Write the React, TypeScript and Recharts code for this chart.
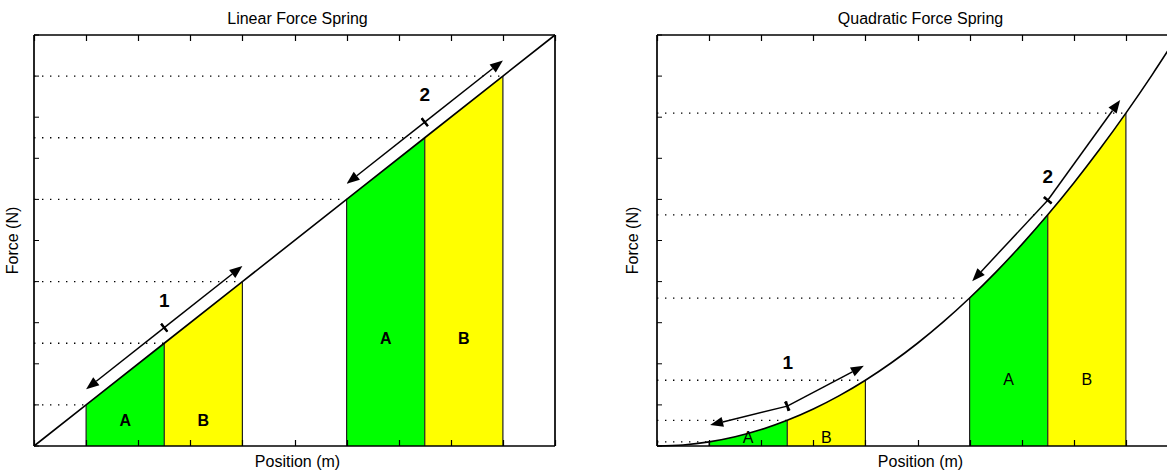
import { Area, ComposedChart, Line, ReferenceDot, ReferenceLine, XAxis, YAxis } from 'recharts'

const FONT = '"Liberation Sans", Arial, Helvetica, sans-serif'
const TICKS = [0, 1, 2, 3, 4, 5, 6, 7, 8, 9, 10]

// Linear spring: force rises in a straight line with position.
const LIN_X = [0, 1, 2.5, 4, 6, 7.5, 9, 10]
const LIN_F = [0, 1, 2.5, 4, 6, 7.5, 9, 10]

// Quadratic spring.
const QUAD_X = [0, 0.5, 1, 1.5, 2, 2.5, 3, 3.5, 4, 4.5, 5, 5.5, 6, 6.5, 7, 7.5, 8, 8.5, 9, 9.5, 10]
const QUAD_F = [0, 0.025, 0.1, 0.225, 0.4, 0.625, 0.9, 1.225, 1.6, 2.025, 2.5, 3.025, 3.6, 4.225, 4.9, 5.625, 6.4, 7.225, 8.1, 9.025, 10]

// Each stretch: start, split between A and B, end.
const STRETCHES = [
  [1, 2.5, 4],
  [6, 7.5, 9],
]
const STRETCH_NAMES = ['1', '2']

// Per stretch: low arrow tip, middle tick, high arrow tip, where the number sits.
const LIN_ARROWS = [
  [[1, 1.38], [2.5, 2.88], [4, 4.38], [2.5, 3.55]],
  [[6, 6.38], [7.5, 7.88], [9, 9.38], [7.5, 8.55]],
]
const QUAD_ARROWS = [
  [[1.02, 0.51], [2.5, 0.97], [3.97, 1.95], [2.51, 2.04]],
  [[6.05, 4.01], [7.5, 5.98], [8.89, 8.42], [7.5, 6.57]],
]

// Height of the A / B letters in each stretch.
const LIN_LETTER_Y = [0.63, 2.63]
const QUAD_LETTER_Y = [0.22, 1.63]

// Half arrow: line from the middle (x1,y1) to a filled head at (x2,y2), with a cross tick at the middle.
function ArrowHalf(props: any) {
  const { x1, y1, x2, y2 } = props
  const dx = x2 - x1
  const dy = y2 - y1
  const len = Math.hypot(dx, dy) || 1
  const ux = dx / len
  const uy = dy / len
  const px = -uy
  const py = ux
  const head = 13
  const half = 5
  const bx = x2 - ux * head
  const by = y2 - uy * head
  return (
    <g>
      <line x1={x1} y1={y1} x2={bx} y2={by} stroke="#000" strokeWidth={1.5} />
      <polygon
        points={`${x2},${y2} ${bx + px * half},${by + py * half} ${bx - px * half},${by - py * half}`}
        fill="#000"
      />
      <line x1={x1 - px * 5} y1={y1 - py * 5} x2={x1 + px * 5} y2={y1 + py * 5} stroke="#000" strokeWidth={2.2} />
    </g>
  )
}

// Inward x ticks along a full-width segment, drawn as one path; dir = -1 points up, 1 points down.
const xTicks = (dir: number) => (props: any) => {
  const { x1, y1, x2 } = props
  const d = TICKS.map((t) => {
    const x = Math.round(x1 + (t / 10) * (x2 - x1)) + 0.5
    return `M${x},${y1} L${x},${y1 + dir * 6}`
  }).join(' ')
  return <path d={d} stroke="#000" strokeWidth={1.2} fill="none" />
}
const TICKS_UP = xTicks(-1)
const TICKS_DOWN = xTicks(1)

const textStyle = (size: number, weight: number) => ({ fontSize: size, fontWeight: weight, fill: '#000' })

type PanelProps = {
  title: string
  xs: number[]
  fs: number[]
  curve: 'linear' | 'monotone'
  arrows: number[][][]
  letterY: number[]
  letterWeight: number
  yLabelOffset: number
}

function Panel({ title, xs, fs, curve, arrows, letterY, letterWeight, yLabelOffset }: PanelProps) {
  const forceAt = (x: number) => fs[xs.indexOf(x)]
  const rows = xs.map((x, i) => {
    const row: Record<string, number | null> = { x, f: fs[i] }
    STRETCHES.forEach(([s, m, e], k) => {
      row['a' + k] = x >= s && x <= m ? fs[i] : null
      row['b' + k] = x >= m && x <= e ? fs[i] : null
    })
    return row
  })

  const axisCommon = {
    type: 'number' as const,
    domain: [0, 10],
    ticks: TICKS,
    interval: 0,
    tickFormatter: () => '',
    stroke: '#000',
    axisLine: { strokeWidth: 1.7 },
  }
  // x axes take 1px each; their inward ticks are drawn by TICKS_UP / TICKS_DOWN
  const xAxisCommon = { ...axisCommon, dataKey: 'x', height: 1, tickLine: false }
  const yAxisCommon = { ...axisCommon, mirror: true, tickSize: 5, tickLine: { stroke: '#000', strokeWidth: 1 } }

  return (
    <ComposedChart width={580} height={472} data={rows} margin={{ top: 34, right: 25, bottom: 25, left: 34 }}>
      {STRETCHES.map((_, k) => (
        <Area key={'a' + k} dataKey={'a' + k} type={curve} fill="#00ff00" fillOpacity={1} stroke="none" isAnimationActive={false} />
      ))}
      {STRETCHES.map((_, k) => (
        <Area key={'b' + k} dataKey={'b' + k} type={curve} fill="#ffff00" fillOpacity={1} stroke="none" isAnimationActive={false} />
      ))}

      {STRETCHES.flat().map((x, i) => (
        <ReferenceLine key={'edge' + i} segment={[{ x, y: 0 }, { x, y: forceAt(x) }]} stroke="#222" strokeWidth={1.2} />
      ))}
      {STRETCHES.flat().map((x, i) => (
        <ReferenceLine
          key={'dot' + i}
          segment={[{ x: 0, y: forceAt(x) }, { x, y: forceAt(x) }]}
          stroke="#000"
          strokeWidth={1.3}
          strokeDasharray="1.4 6.6"
        />
      ))}

      <ReferenceLine key="ticks-bottom" segment={[{ x: 0, y: 0 }, { x: 10, y: 0 }]} ifOverflow="visible" shape={TICKS_UP} />
      <ReferenceLine key="ticks-top" segment={[{ x: 0, y: 10 }, { x: 10, y: 10 }]} ifOverflow="visible" shape={TICKS_DOWN} />

      <Line dataKey="f" type={curve} stroke="#000" strokeWidth={1.6} dot={false} activeDot={false} isAnimationActive={false} />

      {arrows.map(([lo, mid, hi], k) => [
        <ReferenceLine key={'lo' + k} segment={[{ x: mid[0], y: mid[1] }, { x: lo[0], y: lo[1] }]} shape={ArrowHalf} />,
        <ReferenceLine key={'hi' + k} segment={[{ x: mid[0], y: mid[1] }, { x: hi[0], y: hi[1] }]} shape={ArrowHalf} />,
      ])}
      {arrows.map((a, k) => (
        <ReferenceDot
          key={'num' + k}
          x={a[3][0]}
          y={a[3][1]}
          r={0}
          fill="none"
          stroke="none"
          label={{ value: STRETCH_NAMES[k], position: 'center', fill: '#000', fontSize: 19, fontWeight: 700, style: textStyle(19, 700) }}
        />
      ))}
      {STRETCHES.map(([s, m, e], k) => [
        <ReferenceDot
          key={'A' + k}
          x={(s + m) / 2}
          y={letterY[k]}
          r={0}
          fill="none"
          stroke="none"
          label={{ value: 'A', position: 'center', fill: '#000', fontSize: 16, style: textStyle(16, letterWeight) }}
        />,
        <ReferenceDot
          key={'B' + k}
          x={(m + e) / 2}
          y={letterY[k]}
          r={0}
          fill="none"
          stroke="none"
          label={{ value: 'B', position: 'center', fill: '#000', fontSize: 16, style: textStyle(16, letterWeight) }}
        />,
      ])}

      <XAxis
        {...xAxisCommon}
        label={{ value: 'Position (m)', position: 'bottom', offset: 9, dx: 3, fill: '#000', fontSize: 16, style: textStyle(16, 400) }}
      />
      <XAxis
        {...xAxisCommon}
        xAxisId="top"
        orientation="top"
        label={{ value: title, position: 'top', offset: 10, dx: 3, fill: '#000', fontSize: 16, style: textStyle(16, 400) }}
      />
      <YAxis
        {...yAxisCommon}
        label={{
          value: 'Force (N)',
          angle: -90,
          position: 'left',
          offset: yLabelOffset,
          fill: '#000',
          fontSize: 16,
          style: { ...textStyle(16, 400), textAnchor: 'middle' },
        }}
      />
      <YAxis {...yAxisCommon} yAxisId="right" orientation="right" />
    </ComposedChart>
  )
}

export default function App() {
  return (
    <div
      style={{
        position: 'absolute',
        left: 0,
        top: 0,
        width: 1167,
        height: 472,
        overflow: 'hidden',
        background: '#fff',
        fontFamily: FONT,
      }}
    >
      <div style={{ position: 'absolute', left: 0, top: 0 }}>
        <Panel
          title="Linear Force Spring"
          xs={LIN_X}
          fs={LIN_F}
          curve="linear"
          arrows={LIN_ARROWS}
          letterY={LIN_LETTER_Y}
          letterWeight={700}
          yLabelOffset={21.5}
        />
      </div>
      <div style={{ position: 'absolute', left: 623, top: 0 }}>
        <Panel
          title="Quadratic Force Spring"
          xs={QUAD_X}
          fs={QUAD_F}
          curve="monotone"
          arrows={QUAD_ARROWS}
          letterY={QUAD_LETTER_Y}
          letterWeight={400}
          yLabelOffset={24.5}
        />
      </div>
    </div>
  )
}
